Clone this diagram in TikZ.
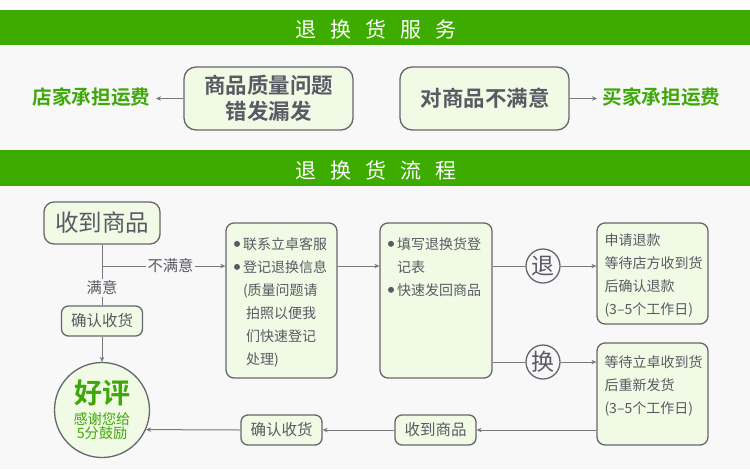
\documentclass[tikz,border=0pt]{standalone}
\usepackage{fontspec}
\setmainfont{Noto Sans CJK SC}[BoldFont={Noto Sans CJK SC Bold}]
\usetikzlibrary{arrows.meta}
\definecolor{bgc}{HTML}{F8F8F8}
\definecolor{bandc}{HTML}{3DAB00}
\definecolor{boxc}{HTML}{F1FAE4}
\definecolor{edgec}{HTML}{66666E}
\definecolor{linec}{HTML}{77777C}
\definecolor{txtc}{HTML}{5A5A64}
\definecolor{greenc}{HTML}{3EA80A}
\newcommand{\fs}[2]{\fontsize{#1}{#2}\selectfont}
% #1 height, #2 width, #3 left margin, #4 top offset, #5 content
\newcommand{\tb}[5]{\parbox[c][#1pt][t]{#2pt}{\raggedright\leftskip=#3pt\vspace*{#4pt}#5}}
\newcommand{\bul}{\makebox[0pt][r]{\raisebox{2.5pt}{\tikz\fill[txtc] (0,0) circle (3pt);}\hspace{3pt}}}
\tikzset{
  bandtitle/.style={text=white,font=\fs{21}{25},anchor=center,inner sep=0pt},
  cardbox/.style={draw=edgec,line width=1.3pt,fill=boxc,rounded corners=#1,inner sep=0pt,text=txtc,align=center},
  cardbox/.default=8pt,
  costlabel/.style={text=greenc,font=\fs{19.6}{24}\bfseries,inner sep=0pt},
  conn/.style={draw=linec,line width=1pt,-{Stealth[length=5pt,width=4.5pt]}},
  plainconn/.style={draw=linec,line width=1pt},
  roundbadge/.style={circle,draw=edgec,line width=1.3pt,fill=bgc,text=txtc,minimum size=34pt,inner sep=0pt,font=\fs{23}{26}},
  lbl/.style={fill=bgc,text=txtc,font=\fs{15.3}{18},inner sep=2pt},
}
\begin{document}
\begin{tikzpicture}[x=1pt,y=-1pt]
\useasboundingbox (0,0) rectangle (750,469);
\fill[white] (0,0) rectangle (750,469);
\fill[bgc] (0,45) rectangle (750,469);
\fill[bandc] (0,10) rectangle (750,45.3);
\fill[bandc] (0,150.3) rectangle (750,186);
\node[bandtitle] (title1) at (376,29) {退\hspace{14pt}换\hspace{14pt}货\hspace{14pt}服\hspace{14pt}务};
\node[bandtitle] (title2) at (376,170) {退\hspace{14pt}换\hspace{14pt}货\hspace{14pt}流\hspace{14pt}程};

% service row
\node[cardbox=12pt,minimum width=169pt,minimum height=63pt,font=\fs{21.5}{26}\bfseries] (q1) at (268.5,98.5) {商品质量问题\\错发漏发};
\node[cardbox=12pt,minimum width=169pt,minimum height=63pt,font=\fs{21.5}{26}\bfseries] (q2) at (484.5,98.5) {\hspace{1.5pt}对商品不满意};
\node[costlabel] (c1) at (91.5,97.5) {店家承担运费};
\node[costlabel] (c2) at (661.5,97.5) {买家承担运费};
\coordinate (c1e) at (156,98.5);
\coordinate (c2w) at (597,98.5);
\draw[conn] (q1.west) -- (c1e);
\draw[conn] (q2.east) -- (c2w);

% flow
\node[cardbox=10pt,minimum width=116pt,minimum height=42pt,font=\fs{23.5}{28}] (recv) at (102,223) {收到商品};
\node[cardbox=7pt,minimum width=81pt,minimum height=30pt,font=\fs{15.5}{18}] (conf) at (102,321) {确认收货};
\node[circle,draw=edgec,line width=1.3pt,fill=boxc,minimum size=95pt,inner sep=0pt,align=center,text=greenc] (good) at (102,410)
  {{\fs{28}{30}\bfseries 好评}\\[5pt]{\fs{14.2}{17}感谢您给}\\{\fs{14.2}{17}5分鼓励}};
\node[cardbox=8pt,minimum width=111pt,minimum height=155pt,font=\fs{14}{23}] (contact) at (281.5,300.5)
  {\tb{155}{111}{17}{14.5}{\bul 联系立卓客服\\\bul 登记退换信息\\(质量问题请\\\hspace*{3pt}拍照以便我\\\hspace*{3pt}们快速登记\\\hspace*{3pt}处理)}};
\node[cardbox=8pt,minimum width=112pt,minimum height=155pt,font=\fs{14}{23}] (form) at (436,300.5)
  {\tb{155}{112}{17}{14.5}{\bul 填写退换货登\\记表\\\bul 快速发回商品}};
\node[cardbox=8pt,minimum width=111pt,minimum height=101pt,font=\fs{14}{23}] (refund) at (652.5,273.5)
  {\tb{101}{111}{7.5}{11}{申请退款\\等待店方收到货\\后确认退款\\(3–5个工作日)}};
\node[cardbox=8pt,minimum width=111pt,minimum height=102pt,font=\fs{14}{23}] (swap) at (652.5,394)
  {\tb{102}{111}{7.5}{13}{等待立卓收到货\\后重新发货\\(3–5个工作日)}};
\node[cardbox=7pt,minimum width=81pt,minimum height=30pt,font=\fs{15.5}{18}] (recv2) at (435.5,430) {收到商品};
\node[cardbox=7pt,minimum width=81pt,minimum height=30pt,font=\fs{15.5}{18}] (conf2) at (281.5,430) {确认收货};
\node[roundbadge] (tui) at (543,266) {退};
\node[roundbadge] (huan) at (543,362) {换};
\coordinate (branch) at (102,266);

\draw[plainconn] (recv.south) -- node[lbl,pos=0.71] (ok) {满意} (conf.north);
\draw[conn] (branch) -- node[lbl,pos=0.555] (notok) {不满意} (contact.west |- branch);
\draw[conn] (conf.south) -- (good.north);
\draw[conn] (contact.east |- branch) -- (form.west |- branch);
\draw[plainconn] (form.east |- tui) -- (tui.west);
\draw[plainconn] (form.east |- huan) -- (huan.west);
\draw[conn] (tui.east) -- (refund.west |- tui);
\draw[conn] (huan.east) -- (swap.west |- huan);
\draw[conn] (swap.west |- recv2) -- (recv2.east);
\draw[conn] (recv2.west) -- (conf2.east);
\draw[conn] (conf2.west) -- (good.-24);
\end{tikzpicture}
\end{document}
